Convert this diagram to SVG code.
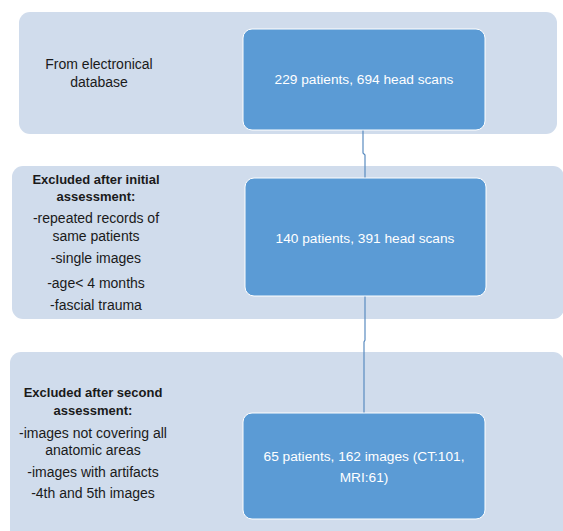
<svg xmlns="http://www.w3.org/2000/svg" width="563" height="531" viewBox="0 0 563 531">
<style>
.panel{fill:#d0dcec;stroke:none}
.box{fill:#5b9bd5;stroke:#ffffff;stroke-width:1}
.lt{font-family:"Liberation Sans",Arial,sans-serif;font-size:14px;fill:#1a1a1a;text-anchor:middle}
.b{font-weight:bold;font-size:13px}
.wt{font-family:"Liberation Sans",Arial,sans-serif;font-size:13.7px;fill:#ffffff;text-anchor:middle}
.conn{stroke:#5a8cc0;stroke-width:1.2;fill:none}
</style>
<rect width="563" height="531" fill="#ffffff"/>
<g id="panel1">
<rect class="panel" x="19" y="12" width="538" height="122" rx="11"/>
<text class="lt" x="99" y="69">From electronical</text>
<text class="lt" x="99" y="87">database</text>
</g>
<g id="panel2">
<rect class="panel" x="12" y="166" width="552" height="153" rx="11"/>
<text class="lt b" x="96" y="184">Excluded  after initial</text>
<text class="lt b" x="96" y="201">assessment:</text>
<text class="lt" x="96" y="223">-repeated  records of</text>
<text class="lt" x="96" y="241">same patients</text>
<text class="lt" x="96" y="263">-single images</text>
<text class="lt" x="96" y="288">-age&lt; 4 months</text>
<text class="lt" x="96" y="310">-fascial trauma</text>
</g>
<g id="panel3">
<rect class="panel" x="10" y="352" width="554" height="190" rx="11"/>
<text class="lt b" x="93" y="397">Excluded  after second</text>
<text class="lt b" x="93" y="415">assessment:</text>
<text class="lt" x="93" y="438">-images not covering all</text>
<text class="lt" x="93" y="455">anatomic areas</text>
<text class="lt" x="93" y="477">-images with artifacts</text>
<text class="lt" x="93" y="498">-4th and 5th images</text>
</g>
<g id="connectors">
<path class="conn" d="M363,130 V153 L365,155 V178"/>
<path class="conn" d="M365,296 V340 L364,342 V413"/>
</g>
<g id="node1">
<rect class="box" x="243" y="29" width="242" height="101" rx="9"/>
<text class="wt" x="364" y="84">229 patients, 694 head scans</text>
</g>
<g id="node2">
<rect class="box" x="245" y="178" width="241" height="118" rx="9"/>
<text class="wt" x="365" y="243">140 patients, 391 head scans</text>
</g>
<g id="node3">
<rect class="box" x="243" y="413" width="242" height="106" rx="9"/>
<text class="wt" x="364" y="461">65 patients, 162 images (CT:101,</text>
<text class="wt" x="364" y="482">MRI:61)</text>
</g>
</svg>
